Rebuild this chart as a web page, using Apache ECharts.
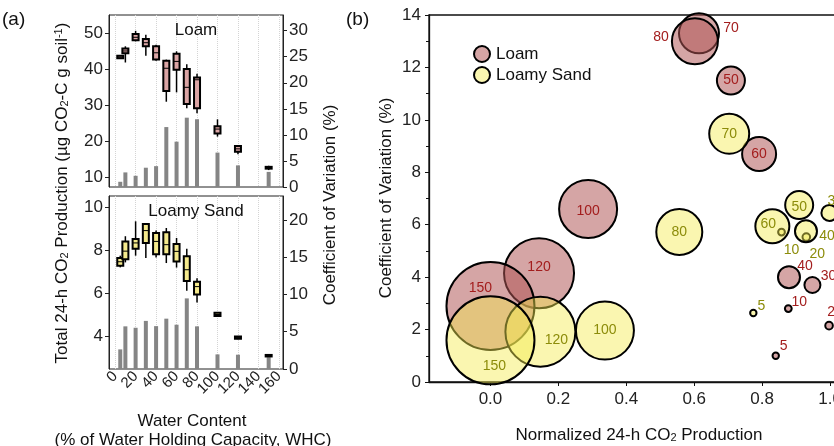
<!DOCTYPE html>
<html><head><meta charset="utf-8">
<script src="https://cdn.jsdelivr.net/npm/echarts@6/dist/echarts.min.js"></script>
<style>html,body{margin:0;padding:0;background:#fff}#c{width:834px;height:446px}</style>
</head><body><div id="c"></div>
<script>
// ---- data ----
const waterContent = [5, 10, 20, 30, 40, 50, 60, 70, 80, 100, 120, 150];
// Loam total 24-h CO2 production (ug CO2-C g soil-1): box statistics
const loamMin = [42.9, 41.8, 47.7, 43.7, 42.3, 30.9, 33.5, 29.1, 27.7, 21.2, 16.3, 11.9];
const loamQ1  = [43.0, 44.4, 48.0, 46.3, 42.6, 33.9, 39.8, 30.3, 29.1, 22.1, 17.0, 12.3];
const loamMed = [43.3, 45.0, 48.8, 47.3, 44.5, 40.2, 42.1, 34.9, 37.0, 23.3, 17.8, 12.6];
const loamQ3  = [43.7, 45.7, 49.7, 48.3, 46.3, 42.3, 44.2, 40.0, 37.6, 24.1, 18.6, 12.8];
const loamMax = [43.8, 46.3, 50.6, 49.5, 46.7, 42.6, 44.9, 41.3, 38.7, 26.0, 18.8, 13.1];
// Loamy sand
const sandMin = [7.20, 7.43, 7.74, 7.63, 7.66, 7.40, 7.19, 6.12, 5.58, 4.93, 3.88, 3.06];
const sandQ1  = [7.27, 7.58, 8.06, 8.33, 7.81, 7.81, 7.47, 6.57, 5.95, 4.95, 3.90, 3.08];
const sandMed = [7.46, 7.95, 8.33, 8.90, 8.40, 8.25, 7.94, 7.09, 6.31, 5.02, 3.95, 3.12];
const sandQ3  = [7.63, 8.40, 8.51, 9.21, 8.79, 8.82, 8.28, 7.71, 6.54, 5.10, 4.00, 3.15];
const sandMax = [7.74, 8.64, 9.33, 9.21, 8.91, 9.02, 8.56, 8.06, 6.70, 5.12, 4.03, 3.18];
// Coefficient of variation (%)
const loamCV = [1.0, 2.8, 2.15, 3.7, 4.0, 11.5, 8.7, 13.3, 13.0, 6.6, 4.15, 2.9];
const sandCV = [2.63, 5.72, 5.53, 6.45, 5.75, 6.75, 5.94, 9.47, 5.72, 1.96, 1.92, 1.59];
// Normalized 24-h CO2 production
const loamNorm = [0.840, 0.877, 0.997, 0.948, 0.879, 0.708, 0.791, 0.614, 0.602, 0.2875, 0.143, 0.0];
const sandNorm = [0.774, 0.857, 0.930, 0.998, 0.929, 0.909, 0.830, 0.703, 0.556, 0.337, 0.147, 0.0];
// tick labels
const waterTicks = [0, 20, 40, 60, 80, 100, 120, 140, 160];
const waterTicksEven = [0, 40, 80, 120, 160];
const waterTicksOdd = [20, 60, 100, 140];
const loamTicks = [10, 20, 30, 40, 50];
const loamCVTicks = [0, 5, 10, 15, 20, 25, 30];
const sandTicks = [4, 6, 8, 10];
const sandCVTicks = [0, 5, 10, 15, 20];
const normTicks = [0, 0.2, 0.4, 0.6, 0.8, 1.0, 1.2];

// ---- styling ----
const FONT = '"Liberation Sans", Arial, sans-serif';
const AX = '#222';
const loamFill = 'rgba(175,85,85,0.53)';
const sandFill = 'rgba(245,235,80,0.45)';
const loamLabel = '#a31d1d';
const sandLabel = '#8c8c0a';
// label offsets (style only) keyed by water content
const loamOff = {5:[8,-10],10:[11,-6],20:[6,-13],30:[16,-9],40:[16,-11],50:[0,0],60:[0,0],70:[32,-5],80:[-34,-4],100:[0,2],120:[0,-6],150:[-10,-18]};
const sandOff = {5:[8,-7],10:[10,18],20:[11,17],30:[6,-12],40:[21,5],50:[0,2],60:[-4,-2],70:[0,0],80:[0,0],100:[0,0],120:[16,8],150:[4,26]};
function bubbleSize(wc){ return wc >= 30 ? 0.6*wc - 2 : 6 + 0.08*wc; }

function boxRows(mn,q1,md,q3,mx){ return waterContent.map((w,i)=>[w,mn[i],q1[i],md[i],q3[i],mx[i]]); }
function boxRender(fill){
  return function(params, api){
    const x = api.value(0);
    const pMin = api.coord([x, api.value(1)]);
    const pQ1 = api.coord([x, api.value(2)]);
    const pMed = api.coord([x, api.value(3)]);
    const pQ3 = api.coord([x, api.value(4)]);
    const pMax = api.coord([x, api.value(5)]);
    const w = 6, cx = pMin[0];
    const h = Math.max(pQ1[1]-pQ3[1], 1.5);
    return {type:'group', children:[
      {type:'line', shape:{x1:cx,y1:pMax[1],x2:cx,y2:pMin[1]}, style:{stroke:'#000',lineWidth:1.5}},
      {type:'rect', shape:{x:cx-w/2,y:pQ3[1],width:w,height:h}, style:{fill:fill,stroke:'#000',lineWidth:2}},
      {type:'line', shape:{x1:cx-w/2,y1:pMed[1],x2:cx+w/2,y2:pMed[1]}, style:{stroke:'#000',lineWidth:1}}
    ]};
  };
}
function bubbleData(norm, cv, off){
  return waterContent.map((w,i)=>({value:[norm[i], cv[i], w], label:{offset: off[w]}}));
}
const tickLbl = {fontSize:17, color:AX, fontFamily:FONT};
function waterLabelAxis(vals){
  return {gridIndex:1, type:'value', min:-6, max:164, position:'bottom',
    axisLine:{show:false},
    axisLabel:{rotate:45, fontSize:15, color:AX, margin:5, customValues:vals, hideOverlap:false, showMinLabel:true, showMaxLabel:true, fontFamily:FONT},
    axisTick:{show:false, customValues:vals}, splitLine:{show:false}};
}

const chart = echarts.init(document.getElementById('c'), null, {renderer:'canvas'});
chart.setOption({
  animation:false,
  backgroundColor:'#fff',
  textStyle:{fontFamily:FONT},
  grid:[
    {left:109, top:15, width:174, height:172, show:true, borderColor:AX, borderWidth:1, outerBoundsMode:'none', containLabel:false},
    {left:109, top:196, width:174, height:173, show:true, borderColor:AX, borderWidth:1, outerBoundsMode:'none', containLabel:false},
    {left:429, top:15, width:469, height:367, show:true, borderColor:'#111', borderWidth:1.3, outerBoundsMode:'none', containLabel:false}
  ],
  legend:{
    data:['Loam','Loamy Sand'], orient:'vertical', left:468, top:40,
    itemWidth:18, itemHeight:16, itemGap:3,
    textStyle:{fontSize:17, color:'#111', fontFamily:FONT}
  },
  xAxis:[
    {gridIndex:0, type:'value', min:-6, max:164,
     axisLine:{show:false}, axisLabel:{show:false},
     axisTick:{show:false, customValues:waterTicks},
     splitLine:{show:true, lineStyle:{color:'#d4d4d4', type:'dotted', width:1}}},
    {gridIndex:1, type:'value', min:-6, max:164, position:'bottom',
     axisLine:{show:false}, axisLabel:{show:false},
     axisTick:{show:false, customValues:waterTicks},
     splitLine:{show:true, lineStyle:{color:'#d4d4d4', type:'dotted', width:1}}},
    {gridIndex:2, type:'value', min:-0.181, max:1.2,
     axisLine:{show:true, onZero:false, lineStyle:{color:'#111', width:1.3}},
     axisTick:{show:true, length:4, lineStyle:{color:'#111'}, customValues:normTicks},
     axisLabel:Object.assign({margin:9, customValues:normTicks, formatter:v=>Number(v).toFixed(1), showMinLabel:true, showMaxLabel:true}, tickLbl),
     splitLine:{show:false}},
    waterLabelAxis(waterTicksEven),
    waterLabelAxis(waterTicksOdd)
  ],
  yAxis:[
    {gridIndex:0, type:'value', min:7.2, max:55, position:'left',
     axisLine:{show:true, onZero:false, lineStyle:{color:AX}},
     axisTick:{show:true, length:4, lineStyle:{color:AX}, customValues:loamTicks},
     axisLabel:Object.assign({margin:6, customValues:loamTicks}, tickLbl), splitLine:{show:false}},
    {gridIndex:0, type:'value', min:0, max:33, position:'right',
     axisLine:{show:true, onZero:false, lineStyle:{color:AX}},
     axisTick:{show:true, length:4, lineStyle:{color:AX}, customValues:loamCVTicks},
     axisLabel:Object.assign({margin:6, customValues:loamCVTicks}, tickLbl), splitLine:{show:false}},
    {gridIndex:1, type:'value', min:2.5, max:10.5, position:'left',
     axisLine:{show:true, onZero:false, lineStyle:{color:AX}},
     axisTick:{show:true, length:4, lineStyle:{color:AX}, customValues:sandTicks},
     axisLabel:Object.assign({margin:6, customValues:sandTicks}, tickLbl), splitLine:{show:false}},
    {gridIndex:1, type:'value', min:0, max:23.2, position:'right',
     axisLine:{show:true, onZero:false, lineStyle:{color:AX}},
     axisTick:{show:true, length:4, lineStyle:{color:AX}, customValues:sandCVTicks},
     axisLabel:Object.assign({margin:6, customValues:sandCVTicks}, tickLbl), splitLine:{show:false}},
    {gridIndex:2, type:'value', min:0, max:14, interval:2, position:'left',
     axisLine:{show:true, onZero:false, lineStyle:{color:'#111', width:1.3}},
     axisTick:{show:true, length:4, lineStyle:{color:'#111'}},
     minorTick:{show:true, splitNumber:2, length:3, lineStyle:{color:'#111'}},
     axisLabel:Object.assign({margin:8}, tickLbl), splitLine:{show:false}}
  ],
  series:[
    {name:'cvLoam', type:'bar', xAxisIndex:0, yAxisIndex:1, barWidth:4, z:1,
     itemStyle:{color:'#858585'}, data:waterContent.map((w,i)=>[w, loamCV[i]])},
    {name:'boxLoam', type:'custom', xAxisIndex:0, yAxisIndex:0, z:3,
     renderItem:boxRender('#dba5a5'), encode:{x:0, y:[1,2,3,4,5]},
     data:boxRows(loamMin,loamQ1,loamMed,loamQ3,loamMax)},
    {name:'cvSand', type:'bar', xAxisIndex:1, yAxisIndex:3, barWidth:4, z:1,
     itemStyle:{color:'#858585'}, data:waterContent.map((w,i)=>[w, sandCV[i]])},
    {name:'boxSand', type:'custom', xAxisIndex:1, yAxisIndex:2, z:3,
     renderItem:boxRender('#f4e98c'), encode:{x:0, y:[1,2,3,4,5]},
     data:boxRows(sandMin,sandQ1,sandMed,sandQ3,sandMax)},
    {name:'Loam', type:'scatter', xAxisIndex:2, yAxisIndex:4, z:2,
     symbolSize:v=>bubbleSize(v[2]),
     itemStyle:{color:loamFill, borderColor:'#000', borderWidth:2, opacity:1},
     label:{show:true, position:'inside', formatter:p=>String(p.value[2]), color:loamLabel, fontSize:14, fontFamily:FONT},
     data:bubbleData(loamNorm, loamCV, loamOff)},
    {name:'Loamy Sand', type:'scatter', xAxisIndex:2, yAxisIndex:4, z:3,
     symbolSize:v=>bubbleSize(v[2]),
     itemStyle:{color:sandFill, borderColor:'#000', borderWidth:2, opacity:1},
     label:{show:true, position:'inside', formatter:p=>String(p.value[2]), color:sandLabel, fontSize:14, fontFamily:FONT},
     data:bubbleData(sandNorm, sandCV, sandOff)}
  ],
  graphic:[
    {type:'text', x:2, y:20, style:{text:'(a)', font:'19px '+FONT, fill:'#111', verticalAlign:'middle'}},
    {type:'text', x:346, y:20, style:{text:'(b)', font:'19px '+FONT, fill:'#111', verticalAlign:'middle'}},
    {type:'text', x:196, y:30, z:10, style:{text:'Loam', font:'17px '+FONT, fill:'#111', align:'center', verticalAlign:'middle'}},
    {type:'text', x:196, y:211, z:10, style:{text:'Loamy Sand', font:'17px '+FONT, fill:'#111', align:'center', verticalAlign:'middle'}},
    {type:'text', x:62, y:193, rotation:Math.PI/2, style:{
      text:'{n|Total 24-h CO}{s|2}{n| Production (µg CO}{s|2}{n|-C g soil}{p|-1}{n|)}',
      align:'center', verticalAlign:'middle', fill:'#111',
      rich:{n:{fontSize:17, fontFamily:FONT, fill:'#111'}, s:{fontSize:11, fontFamily:FONT, verticalAlign:'bottom', fill:'#111'}, p:{fontSize:11, fontFamily:FONT, verticalAlign:'top', fill:'#111'}}}},
    {type:'text', x:330, y:205, rotation:Math.PI/2, style:{text:'Coefficient of Variation (%)', font:'17px '+FONT, fill:'#111', align:'center', verticalAlign:'middle'}},
    {type:'text', x:386, y:198, rotation:Math.PI/2, style:{text:'Coefficient of Variation (%)', font:'17px '+FONT, fill:'#111', align:'center', verticalAlign:'middle'}},
    {type:'text', x:192, y:421, style:{text:'Water Content', font:'17px '+FONT, fill:'#111', align:'center', verticalAlign:'middle'}},
    {type:'text', x:193, y:440, style:{text:'(% of Water Holding Capacity, WHC)', font:'17px '+FONT, fill:'#111', align:'center', verticalAlign:'middle'}},
    {type:'text', x:639, y:435, style:{
      text:'{n|Normalized 24-h CO}{s|2}{n| Production}', align:'center', verticalAlign:'middle', fill:'#111',
      rich:{n:{fontSize:17, fontFamily:FONT, fill:'#111'}, s:{fontSize:11, fontFamily:FONT, verticalAlign:'bottom', fill:'#111'}}}}
  ]
});
</script></body></html>
